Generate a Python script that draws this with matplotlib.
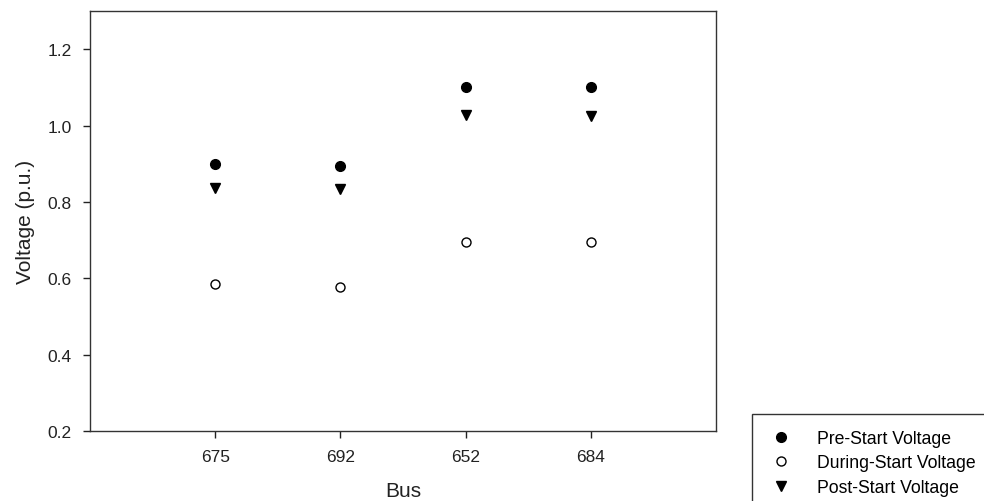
import matplotlib.pyplot as plt

plt.rcParams['font.family'] = ['Liberation Sans', 'DejaVu Sans']

buses = ["675", "692", "652", "684"]
pre_start = [0.900, 0.894, 1.102, 1.102]
during_start = [0.586, 0.577, 0.694, 0.694]
post_start = [0.837, 0.833, 1.028, 1.025]

x = range(1, len(buses) + 1)

fig = plt.figure(figsize=(9.84, 5.02), dpi=100)
ax = fig.add_axes([90 / 984, 70 / 502, 626 / 984, 420 / 502])

ax.plot(x, pre_start, linestyle='none', marker='o', ms=7, color='black',
        label="Pre-Start Voltage")
ax.plot(x, during_start, linestyle='none', marker='o', ms=6.5, mfc='white',
        mec='black', mew=1, label="During-Start Voltage")
ax.plot(x, post_start, linestyle='none', marker='v', ms=7.5, color='black',
        label="Post-Start Voltage")

ax.set_xlim(0, 5)
ax.set_ylim(0.2, 1.3)
ax.set_xticks(list(x))
ax.set_xticklabels(buses)
ax.set_yticks([0.2, 0.4, 0.6, 0.8, 1.0, 1.2])
ax.set_yticklabels(["0.2", "0.4", "0.6", "0.8", "1.0", "1.2"])
ax.tick_params(direction='out', length=5, width=1, labelsize=12.5, pad=8,
               colors='#222222')
for s in ax.spines.values():
    s.set_color('#333333')
    s.set_linewidth(1)

ax.set_xlabel("Bus", fontsize=15, color='#222222', labelpad=12)
ax.set_ylabel("Voltage (p.u.)", fontsize=15, color='#222222', labelpad=9)

leg = fig.legend(loc='upper left', bbox_to_anchor=(752 / 984, 1 - 415 / 502),
                 fontsize=12.7, frameon=True, fancybox=False, edgecolor='black',
                 handlelength=1.5, handletextpad=1.3, labelspacing=0.43,
                 borderpad=0.9, borderaxespad=0, numpoints=1)
leg.get_frame().set_linewidth(1)

fig.savefig("out.png", dpi=100)
